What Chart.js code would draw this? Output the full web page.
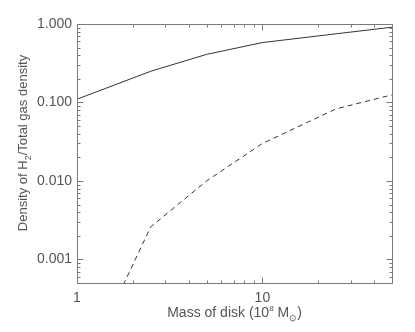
<!DOCTYPE html>
<html>
<head>
<meta charset="utf-8">
<script src="https://cdn.jsdelivr.net/npm/chart.js@4/dist/chart.umd.min.js"></script>
<style>
html,body{margin:0;padding:0;background:#fff;}
#wrap{width:415px;height:332px;position:relative;}
</style>
</head>
<body>
<div id="wrap"><canvas id="c" width="415" height="332"></canvas></div>
<script>
// Data
const diskMass = [1, 2.5, 5, 10, 25, 50];              // 10^8 Msun
const fracSolid = [0.11, 0.25, 0.41, 0.58, 0.75, 0.91];
const fracDashed = [0.000027, 0.0026, 0.010, 0.030, 0.083, 0.125];
const yTickValues = [0.001, 0.01, 0.1, 1];
const yTickLabels = ['0.001', '0.010', '0.100', '1.000'];
const xTickValues = [1, 10];
const xTickLabels = ['1', '10'];
const xMinorTicks = [2,3,4,5,6,7,8,9,20,30,40];
const yMinorTicks = [0.0005,0.0006,0.0007,0.0008,0.0009,
  0.002,0.003,0.004,0.005,0.006,0.007,0.008,0.009,
  0.02,0.03,0.04,0.05,0.06,0.07,0.08,0.09,
  0.2,0.3,0.4,0.5,0.6,0.7,0.8,0.9];

const FONT = "'Liberation Sans', Arial, sans-serif";
const TXT = '#555';
const AXC = '#7a7a7a';

const framePlugin = {
  id: 'frame',
  afterDraw(chart) {
    const ctx = chart.ctx, a = chart.chartArea;
    const xs = chart.scales.x, ys = chart.scales.y;
    ctx.save();
    ctx.setLineDash([]);
    ctx.globalAlpha = 1;
    ctx.strokeStyle = AXC;
    ctx.lineWidth = 1;
    const L = Math.round(a.left)+0.5, R = Math.round(a.right)+0.5, T = Math.round(a.top)+0.5, B = Math.round(a.bottom)+0.5;
    ctx.beginPath();
    ctx.moveTo(L, T); ctx.lineTo(R, T); ctx.lineTo(R, B); ctx.lineTo(L, B); ctx.closePath();
    const xt = (v, len) => {
      const p = Math.round(xs.getPixelForValue(v))+0.5;
      ctx.moveTo(p, B); ctx.lineTo(p, B-len);
      ctx.moveTo(p, T); ctx.lineTo(p, T+len);
    };
    const yt = (v, len) => {
      const p = Math.round(ys.getPixelForValue(v))+0.5;
      ctx.moveTo(L, p); ctx.lineTo(L+len, p);
      ctx.moveTo(R, p); ctx.lineTo(R-len, p);
    };
    xTickValues.forEach(v => xt(v, 6));
    xMinorTicks.forEach(v => xt(v, 3));
    yTickValues.forEach(v => yt(v, 6));
    yMinorTicks.forEach(v => yt(v, 3));
    ctx.stroke();

    // axis titles
    ctx.fillStyle = TXT;
    const parts = [
      {t:'Mass of disk (10', s:14, dy:0},
      {t:'8', s:8, dy:-6},
      {t:' M', s:14, dy:0},
      {t:'\u2299', s:9, dy:4},
      {t:')', s:14, dy:0}
    ];
    let w = 0;
    parts.forEach(p => { ctx.font = p.s+'px '+FONT; p.w = ctx.measureText(p.t).width; w += p.w; });
    let x = (a.left + a.right)/2 - w/2;
    ctx.textBaseline = 'alphabetic';
    ctx.textAlign = 'left';
    parts.forEach(p => { ctx.font = p.s+'px '+FONT; ctx.fillText(p.t, x, 317 + p.dy); x += p.w; });

    ctx.translate(27, 143);
    ctx.rotate(-Math.PI/2);
    const yparts = [
      {t:'Density of H', s:13, dy:0},
      {t:'2', s:9, dy:4},
      {t:'/Total gas density', s:13, dy:0}
    ];
    w = 0;
    yparts.forEach(p => { ctx.font = p.s+'px '+FONT; p.w = ctx.measureText(p.t).width; w += p.w; });
    x = -w/2;
    yparts.forEach(p => { ctx.font = p.s+'px '+FONT; ctx.fillText(p.t, x, p.dy); x += p.w; });
    ctx.restore();
  }
};

new Chart(document.getElementById('c'), {
  type: 'line',
  data: {
    datasets: [
      {
        data: diskMass.map((m,i) => ({x:m, y:fracSolid[i]})),
        borderColor: '#333', borderWidth: 1, pointRadius: 0, fill: false, tension: 0
      },
      {
        data: diskMass.map((m,i) => ({x:m, y:fracDashed[i]})),
        borderColor: '#333', borderWidth: 1, borderDash: [5,4], pointRadius: 0, fill: false, tension: 0
      }
    ]
  },
  options: {
    responsive: false,
    animation: false,
    devicePixelRatio: 1,
    layout: {padding: {left: 0, right: 23, top: 24, bottom: 0}},
    plugins: {legend: {display: false}, tooltip: {enabled: false}},
    scales: {
      x: {
        type: 'logarithmic', min: 1, max: 50,
        grid: {display: false, drawTicks: false, tickLength: 0}, border: {display: false},
        afterBuildTicks: s => { s.ticks = xTickValues.map(v => ({value: v})); },
        afterFit: s => { s.height = 49; },
        ticks: {
          autoSkip: false, maxRotation: 0, padding: 7, color: TXT,
          font: {family: FONT, size: 14},
          callback: v => { const i = xTickValues.indexOf(v); return i >= 0 ? xTickLabels[i] : ''; }
        }
      },
      y: {
        type: 'logarithmic', min: 0.0005, max: 1,
        grid: {display: false, drawTicks: false, tickLength: 0}, border: {display: false},
        afterBuildTicks: s => { s.ticks = yTickValues.map(v => ({value: v})); },
        afterFit: s => { s.width = 77; },
        ticks: {
          autoSkip: false, padding: 5, color: TXT,
          font: {family: FONT, size: 14},
          callback: v => { const i = yTickValues.indexOf(v); return i >= 0 ? yTickLabels[i] : ''; }
        }
      }
    }
  },
  plugins: [framePlugin]
});
</script>
</body>
</html>
